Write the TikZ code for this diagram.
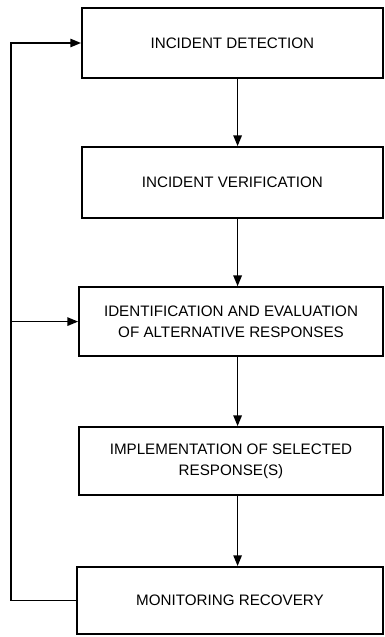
\documentclass[tikz,border=0pt]{standalone}
\usepackage{fontspec}
\setmainfont{Liberation Sans}
\usetikzlibrary{arrows.meta, positioning, calc}

\begin{document}
\begin{tikzpicture}[
  stage/.style={draw, line width=1.2pt, align=center,
                font=\fontsize{10.8}{14.9}\selectfont},
  arr/.style={line width=1.2pt, -{Triangle[length=2.7mm,width=2.1mm]}}
]
\useasboundingbox (0,0) rectangle (9.625,-15.925);
% Stages
\node[stage, minimum width=7.525cm, minimum height=1.75cm]  (det) at (5.81,-1.075)  {INCIDENT DETECTION};
\node[stage, minimum width=7.525cm, minimum height=1.775cm] (ver) at (5.81,-4.5625) {INCIDENT VERIFICATION};
\node[stage, minimum width=7.6cm, minimum height=1.725cm]   (idn) at (5.775,-8.04)  {IDENTIFICATION AND EVALUATION\\OF ALTERNATIVE RESPONSES};
\node[stage, minimum width=7.6cm, minimum height=1.7cm]     (imp) at (5.775,-11.525) {IMPLEMENTATION OF SELECTED\\RESPONSE(S)};
\node[stage, minimum width=7.65cm, minimum height=1.675cm]  (mon) at (5.75,-15.01) {MONITORING RECOVERY};
% Forward flow
\coordinate (fl) at (5.94,0);
\draw[arr] (det.south -| fl) -- (ver.north -| fl);
\draw[arr] (ver.south -| fl) -- (idn.north -| fl);
\draw[arr] (idn.south -| fl) -- (imp.north -| fl);
\draw[arr] (imp.south -| fl) -- (mon.north -| fl);
% Feedback loop
\coordinate (lp) at (0.27,0);
\draw[arr] (mon.west) -- (mon.west -| lp) |- (det.west);
\draw[arr] (idn.west -| lp) -- (idn.west);
\end{tikzpicture}
\end{document}
